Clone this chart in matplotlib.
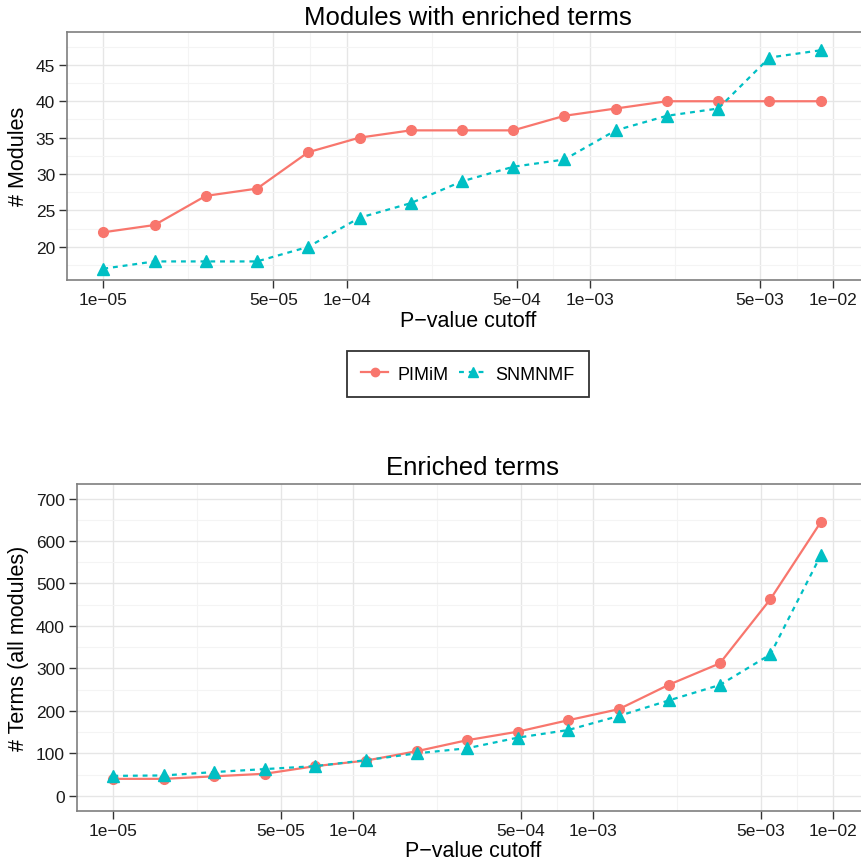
import numpy as np
import matplotlib
matplotlib.use("Agg")
import matplotlib.pyplot as plt
from matplotlib.lines import Line2D

plt.rcParams["font.family"] = ["Liberation Sans", "DejaVu Sans"]

# p-value cutoffs (x axis, log scale)
p_cutoffs = [1.000e-05, 1.624e-05, 2.637e-05, 4.283e-05, 6.955e-05,
             1.130e-04, 1.834e-04, 2.979e-04, 4.837e-04, 7.856e-04,
             1.276e-03, 2.072e-03, 3.365e-03, 5.465e-03, 8.875e-03]

methods = ["PIMiM", "SNMNMF"]

modules_pimim  = [22, 23, 27, 28, 33, 35, 36, 36, 36, 38, 39, 40, 40, 40, 40]
modules_snmnmf = [17, 18, 18, 18, 20, 24, 26, 29, 31, 32, 36, 38, 39, 46, 47]

terms_pimim  = [40, 40, 46, 52, 70, 83, 105, 131, 151, 178, 204, 262, 312, 463, 645]
terms_snmnmf = [47, 48, 56, 63, 70, 84, 100, 112, 137, 155, 188, 225, 261, 333, 567]

x_breaks = [1e-05, 5e-05, 1e-04, 5e-04, 1e-03, 5e-03, 1e-02]
x_labels = ["1e\u221205", "5e\u221205", "1e\u221204", "5e\u221204",
            "1e\u221203", "5e\u221203", "1e\u221202"]

RED  = "#F8766D"
TEAL = "#00BFC4"
W = H = 862.0


def px_axes(fig, left, top, right, bottom):
    return fig.add_axes([left / W, 1 - bottom / H, (right - left) / W, (bottom - top) / H])


def style_panel(ax, xlim, ylim, yticks, yminor, title, ylabel):
    ax.set_xscale("log")
    ax.set_xlim(*xlim)
    ax.set_ylim(*ylim)
    ax.set_xticks(x_breaks)
    ax.set_xticklabels(x_labels)
    mids = [np.sqrt(a * b) for a, b in zip(x_breaks[:-1], x_breaks[1:])]
    ax.set_xticks(mids, minor=True)
    ax.set_yticks(yticks)
    ax.set_yticks(yminor, minor=True)
    ax.grid(which="major", color="#E6E6E6", lw=1.0)
    ax.grid(which="minor", color="#F4F4F4", lw=0.8)
    ax.set_axisbelow(True)
    for s in ax.spines.values():
        s.set_color("#7F7F7F")
        s.set_linewidth(1.2)
    # panel runs past the right edge of the image in the original
    ax.spines["right"].set_visible(False)
    ax.tick_params(which="major", length=5.5, width=1.0, color="#333333",
                   labelsize=12.5, labelcolor="#1a1a1a", pad=3)
    ax.tick_params(which="minor", length=0)
    ax.set_xlabel("P\u2212value cutoff", fontsize=15.5, labelpad=1)
    ax.set_ylabel(ylabel, fontsize=15.5, labelpad=5)


def draw(ax, a, b):
    ax.plot(p_cutoffs, a, color=RED, lw=1.6, marker="o", ms=7, zorder=3)
    ax.plot(p_cutoffs, b, color=TEAL, lw=1.6, ls=(0, (2.2, 2.2)), marker="^", ms=8, zorder=3)


fig = plt.figure(figsize=(8.62, 8.62), dpi=100)

ax1 = px_axes(fig, 67, 32.7, 890, 281)
draw(ax1, modules_pimim, modules_snmnmf)
style_panel(ax1, (10 ** -5.149, 10 ** -1.767), (15.45, 49.55),
            [20, 25, 30, 35, 40, 45], np.arange(17.5, 48, 5),
            "Modules with enriched terms", "# Modules")
fig.text(468 / W, 1 - 18 / H, "Modules with enriched terms", fontsize=18.5,
         ha="center", va="center")

ax2 = px_axes(fig, 76.7, 484.7, 890, 811.7)
draw(ax2, terms_pimim, terms_snmnmf)
style_panel(ax2, (10 ** -5.1525, 10 ** -1.764), (-35, 735),
            np.arange(0, 701, 100), np.arange(50, 651, 100),
            "Enriched terms", "# Terms (all modules)")
fig.text(473 / W, 1 - 468 / H, "Enriched terms", fontsize=18.5,
         ha="center", va="center")

# x labels are centred on the visible panel width of the original
ax1.xaxis.set_label_coords((468 - 67) / (890 - 67), -0.12)
ax2.xaxis.set_label_coords((473 - 76.7) / (890 - 76.7), -0.09)

handles = [Line2D([], [], color=RED, lw=1.6, marker="o", ms=6),
           Line2D([], [], color=TEAL, lw=1.6, ls=(0, (2.2, 2.2)), marker="^", ms=7)]
leg = fig.legend(handles, methods, loc="center", ncol=2,
                 bbox_to_anchor=(468 / W, 1 - 375 / H), fontsize=13,
                 frameon=True, fancybox=False, handlelength=1.5,
                 handletextpad=0.5, columnspacing=0.6, borderpad=0.8,
                 borderaxespad=0)
leg.get_frame().set_edgecolor("black")
leg.get_frame().set_linewidth(1.3)

fig.savefig("out.png", dpi=100)
